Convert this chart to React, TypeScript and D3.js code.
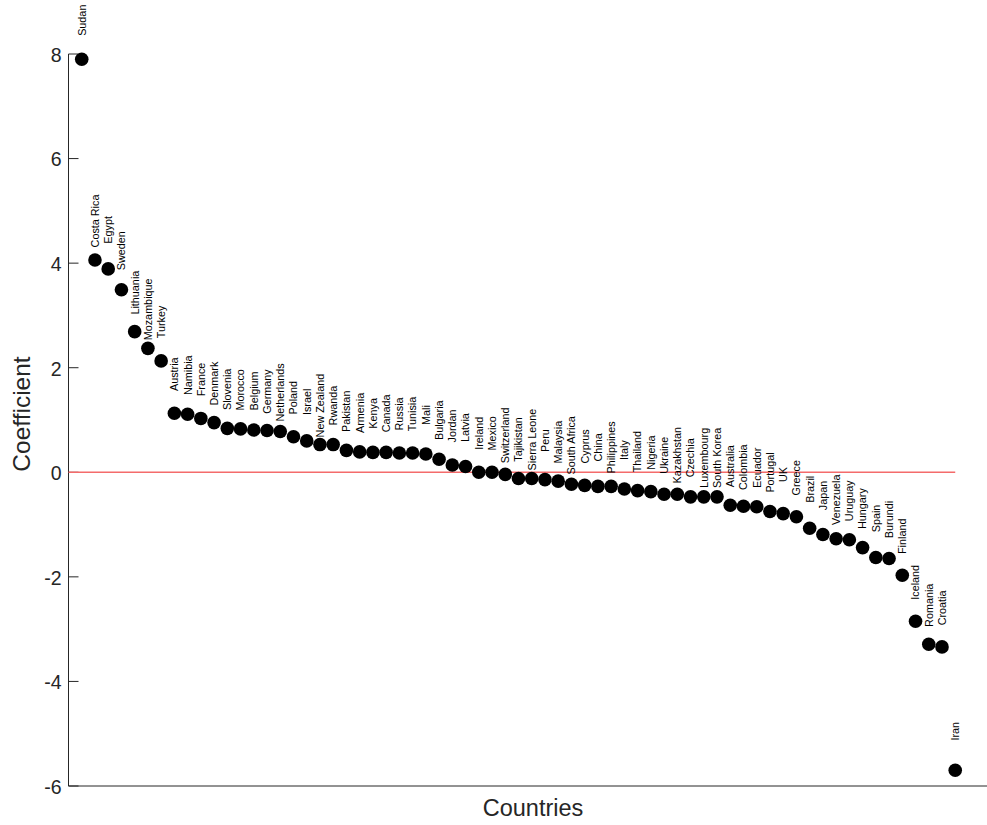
import * as d3 from "d3";
import { useEffect } from "react";

const width = 987;
const height = 825;
const margin = { top: 54, bottom: 39, left: 68.5, right: 0 };

// countries, sorted by coefficient
const countries = [
  "Sudan", "Costa Rica", "Egypt", "Sweden", "Lithuania", "Mozambique", "Turkey",
  "Austria", "Namibia", "France", "Denmark", "Slovenia", "Morocco", "Belgium",
  "Germany", "Netherlands", "Poland", "Israel", "New Zealand", "Rwanda",
  "Pakistan", "Armenia", "Kenya", "Canada", "Russia", "Tunisia", "Mali",
  "Bulgaria", "Jordan", "Latvia", "Ireland", "Mexico", "Switzerland",
  "Tajikistan", "Sierra Leone", "Peru", "Malaysia", "South Africa", "Cyprus",
  "China", "Philippines", "Italy", "Thailand", "Nigeria", "Ukraine",
  "Kazakhstan", "Czechia", "Luxembourg", "South Korea", "Australia",
  "Colombia", "Ecuador", "Portugal", "UK", "Greece", "Brazil", "Japan",
  "Venezuela", "Uruguay", "Hungary", "Spain", "Burundi", "Finland", "Iceland",
  "Romania", "Croatia", "Iran",
];

const coefficients = [
  7.9, 4.06, 3.89, 3.49, 2.69, 2.37, 2.13,
  1.13, 1.11, 1.03, 0.95, 0.84, 0.83, 0.81,
  0.8, 0.78, 0.68, 0.6, 0.53, 0.53,
  0.42, 0.39, 0.38, 0.38, 0.37, 0.37, 0.35,
  0.25, 0.14, 0.11, 0.0, 0.0, -0.04,
  -0.12, -0.12, -0.14, -0.17, -0.23, -0.25,
  -0.27, -0.27, -0.32, -0.35, -0.37, -0.42,
  -0.42, -0.47, -0.47, -0.47, -0.63,
  -0.65, -0.66, -0.75, -0.79, -0.85, -1.07, -1.19,
  -1.27, -1.29, -1.44, -1.63, -1.65, -1.97, -2.85,
  -3.29, -3.34, -5.7,
];

const yTicks = [-6, -4, -2, 0, 2, 4, 6, 8];

const font = "'Liberation Sans', Arial, Helvetica, sans-serif";
const axisColor = "#262626";

function createChart() {
  const svg = d3.select("#coef_chart");
  svg.selectAll("*").remove();

  const data = countries.map((c, i) => ({ name: c, value: coefficients[i], idx: i + 1 }));

  const x = d3
    .scaleLinear()
    .domain([0, 69.4])
    .range([margin.left, width - margin.right]);

  const y = d3
    .scaleLinear()
    .domain([-6, 8])
    .range([height - margin.bottom, margin.top]);

  // y axis line, x axis line
  svg
    .append("line")
    .attr("x1", x(0))
    .attr("x2", x(0))
    .attr("y1", y(8))
    .attr("y2", y(-6))
    .attr("stroke", axisColor)
    .attr("stroke-width", 1);

  svg
    .append("line")
    .attr("x1", x(0))
    .attr("x2", x(69.4))
    .attr("y1", y(-6))
    .attr("y2", y(-6))
    .attr("stroke", axisColor)
    .attr("stroke-width", 1);

  // inward ticks + labels
  const ticks = svg.append("g").classed("y-ticks", true);
  ticks
    .selectAll("line")
    .data(yTicks)
    .enter()
    .append("line")
    .attr("x1", x(0))
    .attr("x2", x(0) + 10)
    .attr("y1", (d) => y(d))
    .attr("y2", (d) => y(d))
    .attr("stroke", axisColor);

  ticks
    .selectAll("text")
    .data(yTicks)
    .enter()
    .append("text")
    .attr("x", x(0) - 7)
    .attr("y", (d) => y(d))
    .attr("dy", "0.4em")
    .attr("text-anchor", "end")
    .style("font-family", font)
    .style("font-size", "19.5px")
    .attr("fill", axisColor)
    .text((d) => d);

  // zero reference line
  svg
    .append("line")
    .attr("x1", x(0))
    .attr("x2", x(countries.length))
    .attr("y1", y(0))
    .attr("y2", y(0))
    .attr("stroke", "#f46b6b")
    .attr("stroke-width", 1.5);

  // dots
  svg
    .append("g")
    .selectAll("circle")
    .data(data)
    .enter()
    .append("circle")
    .attr("cx", (d) => x(d.idx))
    .attr("cy", (d) => y(d.value))
    .attr("r", 6.8)
    .attr("fill", "#000");

  // country labels, rotated, centred ~39px above each dot
  svg
    .append("g")
    .selectAll("text")
    .data(data)
    .enter()
    .append("text")
    .attr("transform", (d) => `translate(${x(d.idx)},${y(d.value) - 39}) rotate(-90)`)
    .attr("dy", "0.36em")
    .attr("text-anchor", "middle")
    .style("font-family", font)
    .style("font-size", "10.8px")
    .attr("fill", "#000")
    .text((d) => d.name);

  // axis titles
  svg
    .append("text")
    .attr("transform", `translate(${30},${414}) rotate(-90)`)
    .attr("text-anchor", "middle")
    .style("font-family", font)
    .style("font-size", "24.5px")
    .attr("fill", axisColor)
    .text("Coefficient");

  svg
    .append("text")
    .attr("x", 533)
    .attr("y", 816)
    .attr("text-anchor", "middle")
    .style("font-family", font)
    .style("font-size", "23.5px")
    .attr("fill", axisColor)
    .text("Countries");
}

export default function App() {
  useEffect(() => {
    createChart();
  }, []);
  return (
    <div style={{ position: "absolute", left: 0, top: 0 }}>
      <svg id="coef_chart" width={width} height={height} style={{ display: "block", background: "#fff" }}></svg>
    </div>
  );
}
